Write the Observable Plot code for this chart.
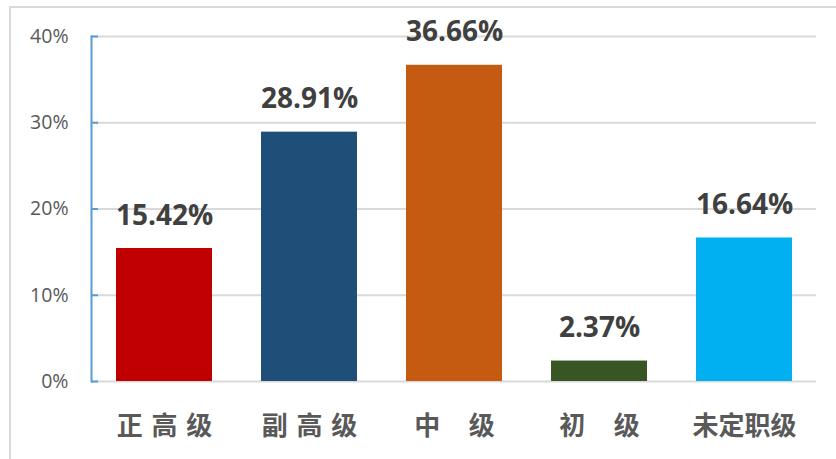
<!DOCTYPE html>
<html>
<head>
<meta charset="utf-8">
<script src="https://cdn.jsdelivr.net/npm/d3@7"></script>
<script src="https://cdn.jsdelivr.net/npm/@observablehq/plot@0.6"></script>
<style>
  html, body { margin: 0; padding: 0; background: #fff; }
  #wrap { position: relative; width: 836px; height: 459px; overflow: hidden; }
  #border { position: absolute; left: 9px; top: 6px; width: 900px; height: 500px; border: 2px solid #d9d9d9; box-sizing: border-box; }
  #chart { position: absolute; left: 0; top: 0; }
</style>
</head>
<body>
<div id="wrap"><div id="border"></div><div id="chart"></div></div>
<script>
const categories = ["正高级", "副高级", "中级", "初级", "未定职级"];
const tickLabels = ["正\u2004高\u2004级", "副\u2004高\u2004级", "中\u3000\u200A级", "初\u3000\u200A级", "未定职级"];
const values = [15.42, 28.91, 36.66, 2.37, 16.64];
const colors = ["#c00000", "#1f4e79", "#c55a11", "#375623", "#00b0f0"];
const yTicks = [0, 10, 20, 30, 40];

const data = categories.map((c, i) => ({cat: c, value: values[i], color: colors[i]}));
const labelOf = new Map(categories.map((c, i) => [c, tickLabels[i]]));

const chart = Plot.plot({
  width: 836,
  height: 459,
  marginLeft: 91,
  marginRight: 20,
  marginTop: 36,
  marginBottom: 78,
  style: {fontFamily: "'Open Sans', 'Noto Sans CJK SC', 'DejaVu Sans', sans-serif", background: "transparent"},
  x: {domain: categories, paddingInner: 0.338, paddingOuter: 0.169, label: null},
  y: {domain: [0, 40], label: null},
  marks: [
    Plot.gridY(yTicks, {stroke: "#d9d9d9", strokeOpacity: 1, strokeWidth: 2}),
    Plot.barY(data, {x: "cat", y: "value", fill: "color"}),
    Plot.frame({anchor: "left", stroke: "#5b9bd5", strokeWidth: 2}),
    Plot.axisY(yTicks, {tickSize: 7, dx: 7, text: null, stroke: "#5b9bd5", strokeWidth: 2}),
    Plot.axisY(yTicks, {tickSize: 0, tickPadding: 23, tickFormat: d => d + "%", fontSize: 19.5, fill: "#595959"}),
    Plot.axisX({tickSize: 0, tickPadding: 35, tickFormat: d => labelOf.get(d), fontSize: 26, fontWeight: "bold", fill: "#595959"}),
    Plot.text(data, {x: "cat", y: "value", text: d => d.value.toFixed(2) + "%", lineAnchor: "bottom", dy: -24, fontSize: 28, fontWeight: "bold", fill: "#404040"})
  ]
});
document.getElementById("chart").appendChild(chart);
</script>
</body>
</html>
